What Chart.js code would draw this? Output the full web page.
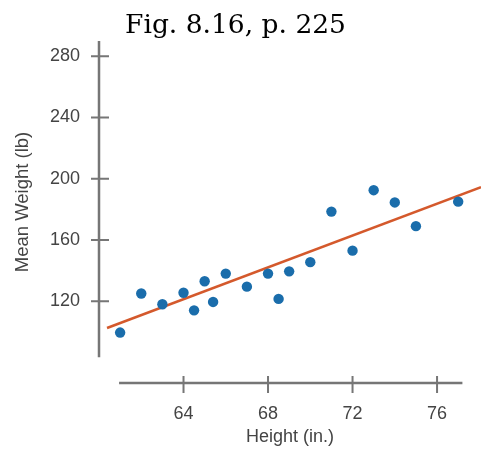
<!DOCTYPE html>
<html>
<head>
<meta charset="utf-8">
<script src="https://cdn.jsdelivr.net/npm/chart.js@4.4.1/dist/chart.umd.min.js"></script>
<style>
  html, body { margin: 0; padding: 0; background: #fff; }
  #wrap { width: 481px; height: 460px; }
</style>
</head>
<body>
<div id="wrap"><canvas id="chart"></canvas></div>
<script>
// height (in.) and mean weight (lb)
const heights = [61, 62, 63, 64, 64.5, 65, 65.4, 66, 67, 68, 68.5, 69, 70, 71, 72, 73, 74, 75, 77];
const weights = [99.5, 125, 118, 125.5, 114, 133, 119.5, 138, 129.5, 138, 121.5, 139.5, 145.5, 178.5, 153, 192.5, 184.5, 169, 185];

// fitted line end points
const fitHeights = [60.38, 78.08];
const fitWeights = [102.5, 194.4];

const xTicks = [64, 68, 72, 76];
const yTicks = [120, 160, 200, 240, 280];

// where the detached axis lines run (data units)
const xAxisSpan = [60.95, 77.2];
const yAxisSpan = [83.4, 290];

const labelFont = "'Liberation Sans', Arial, sans-serif";
const axisGray = "#767676";

const axisLines = {
  id: "axisLines",
  beforeDatasetsDraw(chart) {
    const { ctx, chartArea, scales } = chart;
    const xs = scales.x;
    const ys = scales.y;
    const ax = chartArea.left;
    const ay = chartArea.bottom;

    ctx.save();
    ctx.strokeStyle = axisGray;
    ctx.lineWidth = 2.5;
    ctx.beginPath();
    ctx.moveTo(ax, ys.getPixelForValue(yAxisSpan[1]));
    ctx.lineTo(ax, ys.getPixelForValue(yAxisSpan[0]));
    ctx.moveTo(xs.getPixelForValue(xAxisSpan[0]), ay);
    ctx.lineTo(xs.getPixelForValue(xAxisSpan[1]), ay);
    ctx.stroke();

    ctx.lineWidth = 2;
    ctx.beginPath();
    yTicks.forEach((v) => {
      const py = ys.getPixelForValue(v);
      ctx.moveTo(ax - 8, py);
      ctx.lineTo(ax + 10, py);
    });
    xTicks.forEach((v) => {
      const px = xs.getPixelForValue(v);
      ctx.moveTo(px, ay - 7);
      ctx.lineTo(px, ay + 10);
    });
    ctx.stroke();
    ctx.restore();
  },
};

new Chart(document.getElementById("chart"), {
  data: {
    datasets: [
      {
        type: "scatter",
        data: heights.map((h, i) => ({ x: h, y: weights[i] })),
        backgroundColor: "#1a6dab",
        borderWidth: 0,
        pointRadius: 5.2,
        order: 0,
      },
      {
        type: "line",
        data: fitHeights.map((h, i) => ({ x: h, y: fitWeights[i] })),
        borderColor: "#d4592c",
        borderWidth: 2.5,
        pointRadius: 0,
        fill: false,
        clip: false,
        order: 1,
      },
    ],
  },
  options: {
    responsive: true,
    maintainAspectRatio: false,
    animation: false,
    layout: {
      autoPadding: false,
      padding: { left: -10, right: 0, top: 0, bottom: 0 },
    },
    plugins: {
      legend: { display: false },
      tooltip: { enabled: false },
      title: {
        display: true,
        text: "Fig. 8.16, p. 225",
        color: "#000",
        font: { family: "'DejaVu Serif', 'Liberation Serif', serif", size: 26.5, weight: "normal", lineHeight: 1.2 },
        padding: { top: 9.9, bottom: -20.7 },
      },
    },
    scales: {
      x: {
        type: "linear",
        min: 60,
        max: 78.08,
        afterBuildTicks: (s) => { s.ticks = xTicks.map((v) => ({ value: v })); },
        afterFit: (s) => { s.height = 77; },
        grid: { display: false, drawTicks: true, tickLength: 16 },
        border: { display: false },
        ticks: { padding: 4, color: "#444", font: { family: labelFont, size: 18 } },
        title: {
          display: true,
          text: "Height (in.)",
          color: "#444",
          font: { family: labelFont, size: 18 },
          padding: { top: 0, bottom: 12 },
        },
      },
      y: {
        type: "linear",
        min: 66.56,
        max: 303,
        afterBuildTicks: (s) => { s.ticks = yTicks.map((v) => ({ value: v })); },
        afterFit: (s) => { s.width = 109; },
        grid: { display: false, drawTicks: true, tickLength: 16 },
        border: { display: false },
        ticks: { padding: 3, color: "#444", font: { family: labelFont, size: 18 } },
        title: {
          display: true,
          text: "Mean Weight (lb)",
          color: "#444",
          font: { family: labelFont, size: 18.5 },
          padding: { top: 21.5, bottom: 0 },
        },
      },
    },
  },
  plugins: [axisLines],
});
</script>
</body>
</html>
